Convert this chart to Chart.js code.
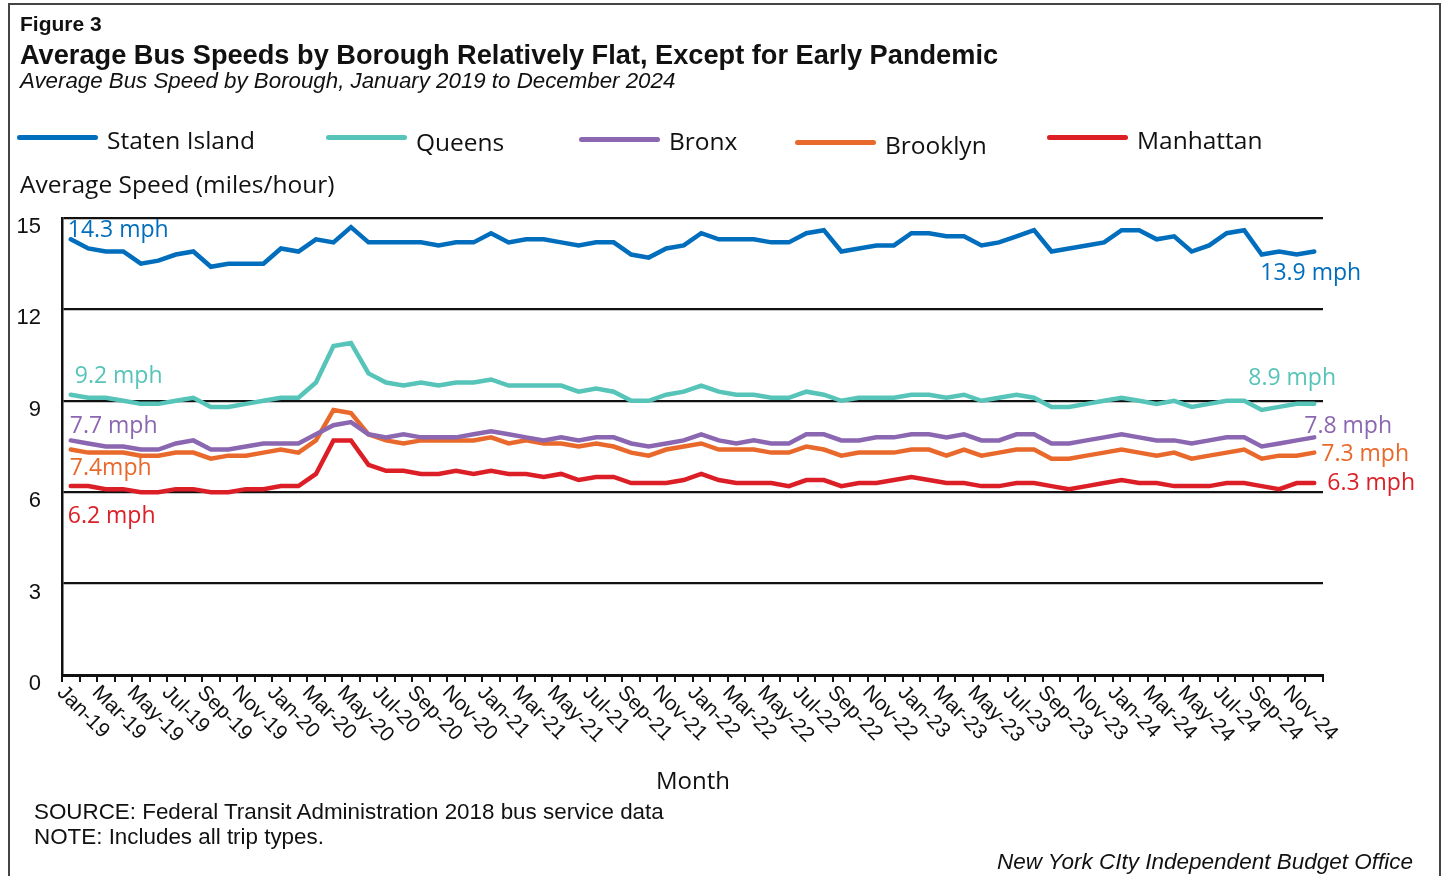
<!DOCTYPE html>
<html>
<head>
<meta charset="utf-8">
<script src="https://cdn.jsdelivr.net/npm/chart.js@4.4.1/dist/chart.umd.min.js"></script>
<style>
  html, body { margin: 0; padding: 0; background: #fff; }
  body { width: 1447px; height: 876px; position: relative; overflow: hidden; color: #111; }
  #frame { position: absolute; left: 8px; top: 3px; width: 1433px; height: 900px; border: 2px solid #444; box-sizing: border-box; }
  #chart { position: absolute; left: 0; top: 0; }
  .t { position: absolute; white-space: nowrap; line-height: 1; }
  .fig { left: 20px; top: 12px; font: bold 21px "Liberation Sans", Arial, sans-serif; }
  .title { left: 20px; top: 39px; font: bold 27.2px "Liberation Sans", Arial, sans-serif; }
  .sub { left: 20px; top: 68px; font: italic 22.3px "Liberation Sans", Arial, sans-serif; }
  .leg { font: 24.5px "Open Sans", sans-serif; }
  .sw { position: absolute; width: 81px; height: 5px; border-radius: 3px; }
  .ytitle { left: 20px; top: 167px; font: 24.5px "Open Sans", sans-serif; }
  .xtitle { left: 693px; top: 763px; transform: translateX(-50%); font: 24px "Open Sans", sans-serif; }
  .note { left: 34px; font: 22.4px "Liberation Sans", Arial, sans-serif; }
  .credit { right: 34px; top: 849px; font: italic 22.5px "Liberation Sans", Arial, sans-serif; }
</style>
</head>
<body>
<div id="frame"></div>
<canvas id="chart" width="1447" height="876"></canvas>

<div class="t fig">Figure 3</div>
<div class="t title">Average Bus Speeds by Borough Relatively Flat, Except for Early Pandemic</div>
<div class="t sub">Average Bus Speed by Borough, January 2019 to December 2024</div>

<div id="legend"></div>

<div class="t ytitle">Average Speed (miles/hour)</div>
<div class="t xtitle">Month</div>
<div class="t note" style="top:799px">SOURCE: Federal Transit Administration 2018 bus service data</div>
<div class="t note" style="top:824px">NOTE: Includes all trip types.</div>
<div class="t credit">New York CIty Independent Budget Office</div>

<script>
// categories
const MONTHS = ["Jan", "Feb", "Mar", "Apr", "May", "Jun", "Jul", "Aug", "Sep", "Oct", "Nov", "Dec"];
const YEARS = ["19", "20", "21", "22", "23", "24"];
const monthLabels = YEARS.flatMap((y) => MONTHS.map((m) => `${m}-${y}`));

// average speed, mph, Jan-19 .. Dec-24
const statenIsland = [
  14.3, 14.0, 13.9, 13.9, 13.5, 13.6, 13.8, 13.9, 13.4, 13.5, 13.5, 13.5,
  14.0, 13.9, 14.3, 14.2, 14.7, 14.2, 14.2, 14.2, 14.2, 14.1, 14.2, 14.2,
  14.5, 14.2, 14.3, 14.3, 14.2, 14.1, 14.2, 14.2, 13.8, 13.7, 14.0, 14.1,
  14.5, 14.3, 14.3, 14.3, 14.2, 14.2, 14.5, 14.6, 13.9, 14.0, 14.1, 14.1,
  14.5, 14.5, 14.4, 14.4, 14.1, 14.2, 14.4, 14.6, 13.9, 14.0, 14.1, 14.2,
  14.6, 14.6, 14.3, 14.4, 13.9, 14.1, 14.5, 14.6, 13.8, 13.9, 13.8, 13.9,
];
const queens = [
  9.2, 9.1, 9.1, 9.0, 8.9, 8.9, 9.0, 9.1, 8.8, 8.8, 8.9, 9.0,
  9.1, 9.1, 9.6, 10.8, 10.9, 9.9, 9.6, 9.5, 9.6, 9.5, 9.6, 9.6,
  9.7, 9.5, 9.5, 9.5, 9.5, 9.3, 9.4, 9.3, 9.0, 9.0, 9.2, 9.3,
  9.5, 9.3, 9.2, 9.2, 9.1, 9.1, 9.3, 9.2, 9.0, 9.1, 9.1, 9.1,
  9.2, 9.2, 9.1, 9.2, 9.0, 9.1, 9.2, 9.1, 8.8, 8.8, 8.9, 9.0,
  9.1, 9.0, 8.9, 9.0, 8.8, 8.9, 9.0, 9.0, 8.7, 8.8, 8.9, 8.9,
];
const bronx = [
  7.7, 7.6, 7.5, 7.5, 7.4, 7.4, 7.6, 7.7, 7.4, 7.4, 7.5, 7.6,
  7.6, 7.6, 7.9, 8.2, 8.3, 7.9, 7.8, 7.9, 7.8, 7.8, 7.8, 7.9,
  8.0, 7.9, 7.8, 7.7, 7.8, 7.7, 7.8, 7.8, 7.6, 7.5, 7.6, 7.7,
  7.9, 7.7, 7.6, 7.7, 7.6, 7.6, 7.9, 7.9, 7.7, 7.7, 7.8, 7.8,
  7.9, 7.9, 7.8, 7.9, 7.7, 7.7, 7.9, 7.9, 7.6, 7.6, 7.7, 7.8,
  7.9, 7.8, 7.7, 7.7, 7.6, 7.7, 7.8, 7.8, 7.5, 7.6, 7.7, 7.8,
];
const brooklyn = [
  7.4, 7.3, 7.3, 7.3, 7.2, 7.2, 7.3, 7.3, 7.1, 7.2, 7.2, 7.3,
  7.4, 7.3, 7.7, 8.7, 8.6, 7.9, 7.7, 7.6, 7.7, 7.7, 7.7, 7.7,
  7.8, 7.6, 7.7, 7.6, 7.6, 7.5, 7.6, 7.5, 7.3, 7.2, 7.4, 7.5,
  7.6, 7.4, 7.4, 7.4, 7.3, 7.3, 7.5, 7.4, 7.2, 7.3, 7.3, 7.3,
  7.4, 7.4, 7.2, 7.4, 7.2, 7.3, 7.4, 7.4, 7.1, 7.1, 7.2, 7.3,
  7.4, 7.3, 7.2, 7.3, 7.1, 7.2, 7.3, 7.4, 7.1, 7.2, 7.2, 7.3,
];
const manhattan = [
  6.2, 6.2, 6.1, 6.1, 6.0, 6.0, 6.1, 6.1, 6.0, 6.0, 6.1, 6.1,
  6.2, 6.2, 6.6, 7.7, 7.7, 6.9, 6.7, 6.7, 6.6, 6.6, 6.7, 6.6,
  6.7, 6.6, 6.6, 6.5, 6.6, 6.4, 6.5, 6.5, 6.3, 6.3, 6.3, 6.4,
  6.6, 6.4, 6.3, 6.3, 6.3, 6.2, 6.4, 6.4, 6.2, 6.3, 6.3, 6.4,
  6.5, 6.4, 6.3, 6.3, 6.2, 6.2, 6.3, 6.3, 6.2, 6.1, 6.2, 6.3,
  6.4, 6.3, 6.3, 6.2, 6.2, 6.2, 6.3, 6.3, 6.2, 6.1, 6.3, 6.3,
];

const seriesNames = ["Staten Island", "Queens", "Bronx", "Brooklyn", "Manhattan"];
const seriesData = [statenIsland, queens, bronx, brooklyn, manhattan];
const seriesColors = ["#006ebd", "#56c4b8", "#8b67b1", "#e8692b", "#dc1f26"];

// start / end value callouts: [series, point index, text, dx, dy]
const callouts = [
  [0, 0, "14.3 mph", -3, -10],
  [1, 0, "9.2 mph", 4, -20],
  [2, 0, "7.7 mph", -1, -15],
  [3, 0, "7.4mph", -1, 17],
  [4, 0, "6.2 mph", -3, 29],
  [0, 71, "13.9 mph", -54, 20],
  [1, 71, "8.9 mph", -66, -27],
  [2, 71, "7.8 mph", -10, -12],
  [3, 71, "7.3 mph", 7, 0],
  [4, 71, "6.3 mph", 13, -1],
];

// legend (html), positions taken from the figure
const legendSpots = [
  { x: 17, lineY: 137, textY: 123 },
  { x: 326, lineY: 137, textY: 125 },
  { x: 579, lineY: 139, textY: 124 },
  { x: 795, lineY: 142, textY: 128 },
  { x: 1047, lineY: 137, textY: 123 },
];
const legendEl = document.getElementById("legend");
seriesNames.forEach((name, i) => {
  const s = legendSpots[i];
  const sw = document.createElement("div");
  sw.className = "sw";
  sw.style.cssText = `left:${s.x}px;top:${s.lineY - 2.5}px;background:${seriesColors[i]}`;
  legendEl.appendChild(sw);
  const tx = document.createElement("div");
  tx.className = "t leg";
  tx.style.cssText = `left:${s.x + 90}px;top:${s.textY}px`;
  tx.textContent = name;
  legendEl.appendChild(tx);
});

const monthTicks = {
  id: "monthTicks",
  afterDraw(chart) {
    const { ctx } = chart;
    const x = chart.scales.x;
    ctx.save();
    ctx.font = '21px "Liberation Sans", Arial, sans-serif';
    ctx.fillStyle = "#111";
    ctx.textAlign = "left";
    ctx.textBaseline = "top";
    monthLabels.forEach((lab, i) => {
      if (i % 2) return;
      ctx.save();
      ctx.translate(x.getPixelForValue(i) - 3, 682);
      ctx.rotate(Math.PI / 4);
      ctx.fillText(lab, 0, 0);
      ctx.restore();
    });
    ctx.restore();
  },
};

const calloutLabels = {
  id: "calloutLabels",
  afterDatasetsDraw(chart) {
    const { ctx } = chart;
    const { x, y } = chart.scales;
    ctx.save();
    ctx.font = '23px "Open Sans", sans-serif';
    ctx.textAlign = "left";
    ctx.textBaseline = "alphabetic";
    callouts.forEach(([s, i, text, dx, dy]) => {
      ctx.fillStyle = seriesColors[s];
      const px = x.getPixelForValue(i) + dx;
      const py = y.getPixelForValue(seriesData[s][i]) + dy + 8;
      ctx.fillText(text, px, py);
    });
    ctx.restore();
  },
};

new Chart(document.getElementById("chart"), {
  type: "line",
  data: {
    labels: monthLabels,
    datasets: seriesNames.map((name, i) => ({
      label: name,
      data: seriesData[i],
      borderColor: seriesColors[i],
      backgroundColor: seriesColors[i],
      borderWidth: 4.5,
      borderCapStyle: "round",
      pointRadius: 0,
      tension: 0,
      fill: false,
    })),
  },
  options: {
    responsive: false,
    animation: false,
    layout: { padding: { top: 218, right: 124, left: 0, bottom: 0 } },
    plugins: { legend: { display: false }, tooltip: { enabled: false } },
    scales: {
      x: {
        type: "category",
        offset: true,
        ticks: { display: false, autoSkip: false },
        grid: { drawOnChartArea: false, drawTicks: true, tickLength: 7, offset: true, color: "#111", lineWidth: 2 },
        border: { display: true, color: "#111", width: 3 },
        afterFit: (s) => { s.height = 201; },
      },
      y: {
        min: 0,
        max: 15,
        ticks: {
          stepSize: 3,
          padding: 21,
          labelOffset: 9,
          color: "#111",
          font: { family: '"Liberation Sans", Arial, sans-serif', size: 22 },
        },
        grid: { color: "#111", lineWidth: 2.3, drawTicks: false },
        border: { display: true, color: "#111", width: 2.5 },
        afterFit: (s) => { s.width = 62; },
      },
    },
  },
  plugins: [monthTicks, calloutLabels],
});
</script>
</body>
</html>
